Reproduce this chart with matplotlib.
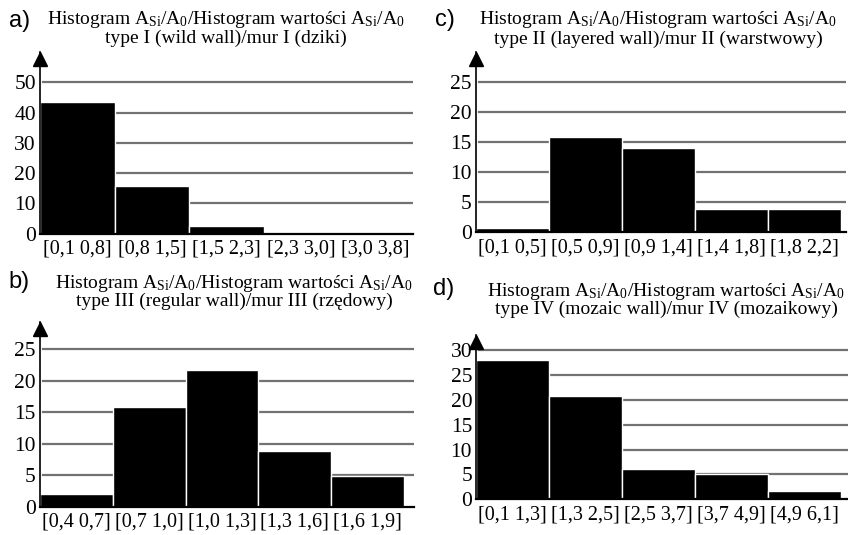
import matplotlib
matplotlib.use('Agg')
import matplotlib.pyplot as plt
import matplotlib.transforms as mtransforms
import numpy as np

plt.rcParams['font.family'] = 'Liberation Serif'
plt.rcParams['mathtext.fontset'] = 'custom'
plt.rcParams['mathtext.rm'] = 'Liberation Serif'
plt.rcParams['mathtext.it'] = 'Liberation Serif:italic'

# --- data ---
labels_a = ["[0,1 0,8]", "[0,8 1,5]", "[1,5 2,3]", "[2,3 3,0]", "[3,0 3,8]"]
counts_a = [43.5, 15.6, 2.5, 0, 0]
ticks_a = [0, 10, 20, 30, 40, 50]

labels_c = ["[0,1 0,5]", "[0,5 0,9]", "[0,9 1,4]", "[1,4 1,8]", "[1,8 2,2]"]
counts_c = [0.7, 15.9, 14.0, 3.8, 3.8]
ticks_c = [0, 5, 10, 15, 20, 25]

labels_b = ["[0,4 0,7]", "[0,7 1,0]", "[1,0 1,3]", "[1,3 1,6]", "[1,6 1,9]"]
counts_b = [2.0, 15.8, 21.8, 8.9, 4.9]
ticks_b = [0, 5, 10, 15, 20, 25]

labels_d = ["[0,1 1,3]", "[1,3 2,5]", "[2,5 3,7]", "[3,7 4,9]", "[4,9 6,1]"]
counts_d = [28.0, 20.7, 6.0, 5.1, 1.7]
ticks_d = [0, 5, 10, 15, 20, 25, 30]

HEAD = r"Histogram A$_{\mathrm{Si}}$/A$_{0}$/Histogram wartości A$_{\mathrm{Si}}$/A$_{0}$"

W, H = 848, 535
fig = plt.figure(figsize=(W / 100, H / 100), dpi=100)


def px_axes(left, right, base, top):
    return fig.add_axes([left / W, 1 - base / H, (right - left) / W, (base - top) / H])


def draw_panel(box, labels, counts, ticks, ymax, xr, letter, sub, title_pos):
    left, right, base, top = box
    ax = px_axes(left, right, base, top)
    x = np.arange(len(counts))
    for t in ticks[1:]:
        ax.axhline(t, xmin=0.008, xmax=1, color='#727272', lw=1.6, zorder=1)
    ax.bar(x, counts, width=1.0, color='black', edgecolor='white', linewidth=1.0, zorder=2)
    ax.set_xlim(-0.5, xr)
    ax.set_ylim(0, ymax)
    ax.set_xticks(x)
    ax.set_xticklabels(labels, fontsize=14.5)
    ax.set_yticks(ticks)
    ax.set_yticklabels([str(t) for t in ticks], fontsize=15.5)
    ax.tick_params(axis='both', length=0)
    ax.tick_params(axis='x', pad=4.5)
    ax.tick_params(axis='y', pad=3)
    for s in ['top', 'right']:
        ax.spines[s].set_visible(False)
    ax.spines['left'].set_linewidth(1.2)
    ax.spines['bottom'].set_linewidth(1.6)
    ax.set_facecolor('none')
    # strzałka na osi y
    tr = mtransforms.offset_copy(ax.transAxes, fig=fig, x=0, y=-5, units='points')
    ax.plot([0], [1], marker='^', markersize=10, color='black', transform=tr,
            clip_on=False, zorder=5)
    # tytuł i litera panelu
    tx, y1, y2, lx, ly = title_pos
    fig.text(lx / W, 1 - ly / H, letter, fontsize=17, family='Liberation Sans',
             ha='left', va='baseline')
    fig.text(tx / W, 1 - y1 / H, HEAD, fontsize=14, ha='center', va='baseline')
    fig.text(tx / W, 1 - y2 / H, sub, fontsize=14, ha='center', va='baseline')
    return ax


draw_panel((40, 413, 233.7, 52), labels_a, counts_a, ticks_a, 60, 4.5,
           "a)", "type I (wild wall)/mur I (dziki)", (226, 24.5, 43, 9, 27))
draw_panel((475.7, 845.7, 232.3, 51.7), labels_c, counts_c, ticks_c, 30, 4.56,
           "c)", "type II (layered wall)/mur II (warstwowy)", (658, 24.5, 43.5, 435, 26))
draw_panel((40, 414, 506.7, 321.7), labels_b, counts_b, ticks_b, 29.4, 4.64,
           "b)", "type III (regular wall)/mur III (rzędowy)", (234, 287.5, 305.5, 8, 288))
draw_panel((476.3, 848, 499.3, 335), labels_d, counts_d, ticks_d, 33, 4.6,
           "d)", "type IV (mozaic wall)/mur IV (mozaikowy)", (666, 296, 313.5, 433, 295))

fig.savefig('out.png', dpi=100)
